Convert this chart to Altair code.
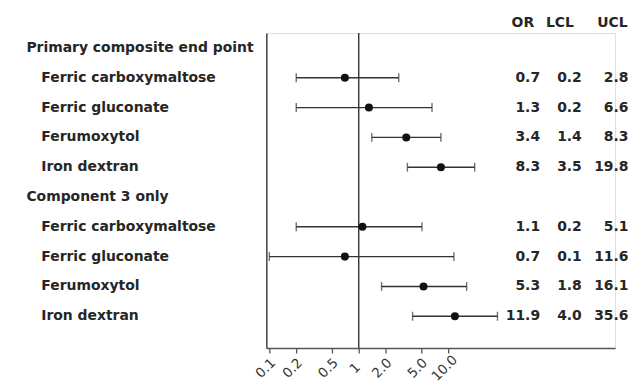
import altair as alt
import pandas as pd

# ---- data ----
group_names = ["Primary composite end point", "Component 3 only"]
drugs = ["Ferric carboxymaltose", "Ferric gluconate", "Ferumoxytol", "Iron dextran"]
or_primary = [0.7, 1.3, 3.4, 8.3]
lcl_primary = [0.2, 0.2, 1.4, 3.5]
ucl_primary = [2.8, 6.6, 8.3, 19.8]
or_comp3 = [1.1, 0.7, 5.3, 11.9]
lcl_comp3 = [0.2, 0.1, 1.8, 4.0]
ucl_comp3 = [5.1, 11.6, 16.1, 35.6]
table_headers = ["OR", "LCL", "UCL"]
tick_values = [0.1, 0.2, 0.5, 1, 2, 5, 10]
tick_labels = ["0.1", "0.2", "0.5", "1", "2.0", "5.0", "10.0"]

# ---- build tables ----
rows = []
r = 0
for g, (ors, lcls, ucls) in zip(group_names, [(or_primary, lcl_primary, ucl_primary),
                                              (or_comp3, lcl_comp3, ucl_comp3)]):
    rows.append(dict(row=r, label=g, header=True))
    r += 1
    for d, o, l, u in zip(drugs, ors, lcls, ucls):
        rows.append(dict(row=r, label=d, header=False, OR=o, LCL=l, UCL=u,
                         OR_s=f"{o:.1f}", LCL_s=f"{l:.1f}", UCL_s=f"{u:.1f}"))
        r += 1
df = pd.DataFrame(rows)
items = df[~df["header"]].copy()
heads = df[df["header"]].copy()
hdr = pd.DataFrame({"row": [-0.83] * 3, "label": table_headers})

FONT = "DejaVu Sans"
FS = 14
TXT = "#262626"
LINE = "#333333"

yscale = alt.Scale(domain=[-0.5, 10.067], reverse=True)
xscale = alt.Scale(type="log", domain=[0.0926, 736])

label_expr = " : ".join(
    f"datum.value == {v} ? '{t}'" for v, t in zip(tick_values, tick_labels)
) + " : ''"

base = alt.Chart(items)

xaxis = alt.Axis(values=tick_values, labelExpr=label_expr, labelAngle=315,
                 labelAlign="center", labelBaseline="middle", labelFont="DejaVu Sans",
                 labelFontSize=13.5, labelFontWeight=500, labelColor="#333333",
                 tickColor="#555555", tickSize=5, tickWidth=1.3, domainColor="#555555",
                 domainWidth=1.5, grid=False, title=None, labelPadding=15, labelOffset=-4,
                 labelFlush=False, labelOverlap=False)
yaxis = alt.Axis(labels=False, ticks=False, grid=False, title=None,
                 domainColor="#444444", domainWidth=1.5)

ci = base.mark_rule(color=LINE, strokeWidth=1.4).encode(
    x=alt.X("LCL:Q", scale=xscale, axis=xaxis),
    x2="UCL:Q",
    y=alt.Y("row:Q", scale=yscale, axis=yaxis),
)
cap_l = base.mark_tick(orient="vertical", color=LINE, thickness=1.4, size=9).encode(
    x=alt.X("LCL:Q", scale=xscale), y=alt.Y("row:Q", scale=yscale))
cap_u = base.mark_tick(orient="vertical", color=LINE, thickness=1.4, size=9).encode(
    x=alt.X("UCL:Q", scale=xscale), y=alt.Y("row:Q", scale=yscale))
pts = base.mark_circle(color="#111111", opacity=1, size=65).encode(
    x=alt.X("OR:Q", scale=xscale), y=alt.Y("row:Q", scale=yscale))

ref = alt.Chart(pd.DataFrame({"v": [1]})).mark_rule(color="#333333", strokeWidth=1.4).encode(
    x=alt.X("v:Q", scale=xscale))

label_h = alt.Chart(heads).mark_text(align="left", baseline="middle", font=FONT,
                                     fontWeight="bold", fontSize=FS, color=TXT).encode(
    x=alt.value(-241.5), y=alt.Y("row:Q", scale=yscale), text="label:N")
label_i = alt.Chart(items).mark_text(align="left", baseline="middle", font=FONT,
                                     fontWeight="bold", fontSize=FS, color=TXT).encode(
    x=alt.value(-226.5), y=alt.Y("row:Q", scale=yscale), text="label:N")

layers = [ci, cap_l, cap_u, ref, pts, label_h, label_i]
for col, xr in zip(["OR_s", "LCL_s", "UCL_s"], [275.5, 317.5, 364.5]):
    layers.append(alt.Chart(items).mark_text(align="right", baseline="middle", font=FONT,
                                             fontWeight="bold", fontSize=FS, color=TXT).encode(
        x=alt.value(xr), y=alt.Y("row:Q", scale=yscale), text=f"{col}:N"))
for h, hx in zip(table_headers, [269.5, 309.5, 363.5]):
    layers.append(alt.Chart(hdr[hdr["label"] == h]).mark_text(
        align="right", baseline="middle", font=FONT, fontWeight="bold", fontSize=FS,
        color=TXT).encode(x=alt.value(hx), y=alt.Y("row:Q", scale=yscale), text="label:N"))

chart = alt.layer(*layers).properties(
    width=351, height=317,
    autosize=alt.AutoSizeParams(type="none"),
    padding={"left": 260, "top": 24, "right": 14, "bottom": 42},
).configure_view(stroke=None).configure(background="white")

chart.save("out.html", embed_options={"renderer": "svg", "actions": False})
